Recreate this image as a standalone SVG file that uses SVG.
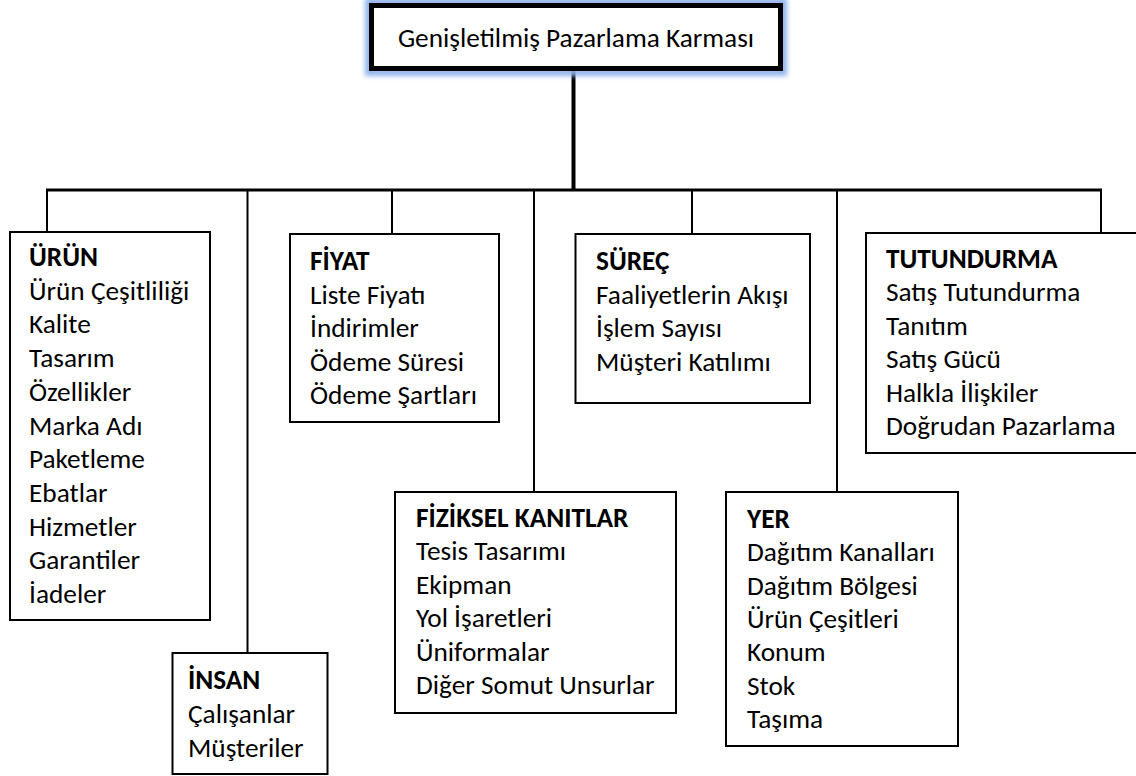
<svg xmlns="http://www.w3.org/2000/svg" width="1136" height="776" viewBox="0 0 1136 776">
<defs>
<style>
.box{fill:#fff;stroke:#000;stroke-width:2}
.t{font-family:Carlito,Lato,"Liberation Sans",sans-serif;font-size:27.3px;fill:#000}
.h{font-weight:bold}
.c{stroke:#000;stroke-width:2;fill:none}
</style>
<filter id="glow" x="-10%" y="-30%" width="120%" height="160%"><feGaussianBlur stdDeviation="2.5"/></filter>
</defs>
<rect width="1136" height="776" fill="#fff"/>
<g id="connectors">
<line class="c" x1="573.5" y1="70" x2="573.5" y2="191" style="stroke-width:4"/>
<line class="c" x1="46" y1="190" x2="1102" y2="190" style="stroke-width:3"/>
<line class="c" x1="47" y1="190" x2="47" y2="232"/>
<line class="c" x1="247.5" y1="190" x2="247.5" y2="653"/>
<line class="c" x1="392" y1="190" x2="392" y2="234"/>
<line class="c" x1="534" y1="190" x2="534" y2="492"/>
<line class="c" x1="692" y1="190" x2="692" y2="234"/>
<line class="c" x1="837" y1="190" x2="837" y2="492"/>
<line class="c" x1="1101" y1="190" x2="1101" y2="233"/>
</g>
<g id="root">
<rect x="369" y="2" width="414" height="70" fill="none" stroke="#8fb4ea" stroke-width="8" filter="url(#glow)"/>
<rect x="371.5" y="5.5" width="409" height="63" fill="#fff" stroke="#000" stroke-width="5"/>
<text class="t" x="576" y="47" text-anchor="middle">Genişletilmiş Pazarlama Karması</text>
</g>
<g id="urun">
<rect class="box" x="10" y="232" width="200" height="388"/>
<text class="t" x="29"><tspan class="h" y="266">ÜRÜN</tspan><tspan x="29" y="299.7">Ürün Çeşitliliği</tspan><tspan x="29" y="333.4">Kalite</tspan><tspan x="29" y="367.1">Tasarım</tspan><tspan x="29" y="400.8">Özellikler</tspan><tspan x="29" y="434.5">Marka Adı</tspan><tspan x="29" y="468.2">Paketleme</tspan><tspan x="29" y="501.9">Ebatlar</tspan><tspan x="29" y="535.6">Hizmetler</tspan><tspan x="29" y="569.3">Garantiler</tspan><tspan x="29" y="603">İadeler</tspan></text>
</g>
<g id="insan">
<rect class="box" x="172.5" y="653" width="155" height="121"/>
<text class="t" x="188"><tspan class="h" y="689">İNSAN</tspan><tspan x="188" y="723">Çalışanlar</tspan><tspan x="188" y="757">Müşteriler</tspan></text>
</g>
<g id="fiyat">
<rect class="box" x="290" y="234" width="209" height="188"/>
<text class="t" x="310"><tspan class="h" y="270">FİYAT</tspan><tspan x="310" y="303.5">Liste Fiyatı</tspan><tspan x="310" y="337">İndirimler</tspan><tspan x="310" y="370.5">Ödeme Süresi</tspan><tspan x="310" y="404">Ödeme Şartları</tspan></text>
</g>
<g id="fiziksel">
<rect class="box" x="395" y="492" width="281" height="221"/>
<text class="t" x="416"><tspan class="h" y="527">FİZİKSEL KANITLAR</tspan><tspan x="416" y="560.4">Tesis Tasarımı</tspan><tspan x="416" y="593.8">Ekipman</tspan><tspan x="416" y="627.2">Yol İşaretleri</tspan><tspan x="416" y="660.6">Üniformalar</tspan><tspan x="416" y="694">Diğer Somut Unsurlar</tspan></text>
</g>
<g id="surec">
<rect class="box" x="575.5" y="234" width="234.5" height="169"/>
<text class="t" x="596"><tspan class="h" y="270">SÜREÇ</tspan><tspan x="596" y="303.5">Faaliyetlerin Akışı</tspan><tspan x="596" y="337">İşlem Sayısı</tspan><tspan x="596" y="370.5">Müşteri Katılımı</tspan></text>
</g>
<g id="yer">
<rect class="box" x="726" y="492" width="232" height="254"/>
<text class="t" x="747"><tspan class="h" y="528">YER</tspan><tspan x="747" y="561.3">Dağıtım Kanalları</tspan><tspan x="747" y="594.6">Dağıtım Bölgesi</tspan><tspan x="747" y="627.9">Ürün Çeşitleri</tspan><tspan x="747" y="661.2">Konum</tspan><tspan x="747" y="694.5">Stok</tspan><tspan x="747" y="728">Taşıma</tspan></text>
</g>
<g id="tutundurma">
<rect class="box" x="866" y="233" width="274" height="220"/>
<text class="t" x="886"><tspan class="h" y="268">TUTUNDURMA</tspan><tspan x="886" y="301.4">Satış Tutundurma</tspan><tspan x="886" y="334.8">Tanıtım</tspan><tspan x="886" y="368.2">Satış Gücü</tspan><tspan x="886" y="401.6">Halkla İlişkiler</tspan><tspan x="886" y="435">Doğrudan Pazarlama</tspan></text>
</g>
</svg>
